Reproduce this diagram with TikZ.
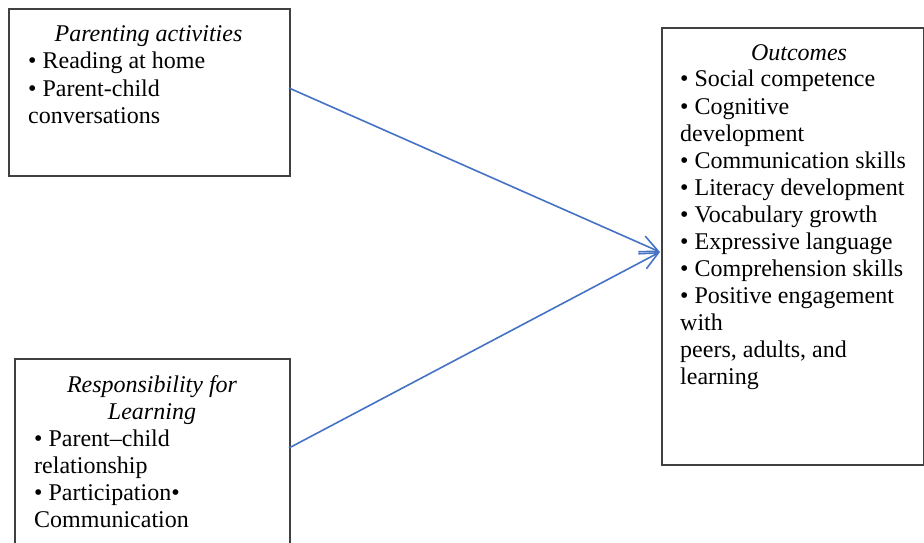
\documentclass[tikz,border=0pt]{standalone}
\usepackage{fontspec}
\setmainfont{Liberation Serif}
\usetikzlibrary{arrows.meta}
\definecolor{boxline}{HTML}{404040}
\definecolor{arrowblue}{HTML}{4472C4}
\begin{document}
\begin{tikzpicture}[x=1pt,y=-1pt,
  box/.style={draw=boxline,line width=1.6pt,rectangle,anchor=north west,inner sep=0pt},
  txt/.style={inner sep=0pt,anchor=base west,font=\fontsize{24}{27}\selectfont},
  ttl/.style={inner sep=0pt,anchor=base,font=\fontsize{24}{27}\selectfont\itshape},
  link/.style={draw=arrowblue,line width=1.6pt,-{Straight Barb[length=18pt,width=17pt,line width=1.6pt]}}]
\useasboundingbox (0,0) rectangle (924,543);
\clip (0,0) rectangle (924,543);
% boxes
\node[box,minimum width=281pt,minimum height=167pt] (pa) at (8,8) {};
\node[box,minimum width=275pt,minimum height=250pt] (rl) at (14,358) {};
\node[box,minimum width=262pt,minimum height=437pt] (oc) at (661,27) {};
% Parenting activities
\node[ttl] (pat) at (148.5,42) {Parenting activities};
\node[txt] (pa1) at (28,69) {• Reading at home};
\node[txt] (pa2) at (28,96) {• Parent-child};
\node[txt] (pa3) at (28,123) {conversations};
% Responsibility for Learning
\node[ttl] (rlt1) at (152,392) {Responsibility for};
\node[ttl] (rlt2) at (152,419) {Learning};
\node[txt] (rl1) at (34,446) {• Parent–child};
\node[txt] (rl2) at (34,473) {relationship};
\node[txt] (rl3) at (34,500) {• Participation•};
\node[txt] (rl4) at (34,527) {Communication};
% Outcomes
\node[ttl] (oct) at (799,60) {Outcomes};
\foreach \t [count=\i from 1] in {• Social competence,• Cognitive,development,• Communication skills,• Literacy development,• Vocabulary growth,• Expressive language,• Comprehension skills,• Positive engagement,with,{peers, adults, and},learning}{
  \node[txt] (oc\i) at (680,60+27*\i) {\t};
}
% connectors
\coordinate (s1) at (289,88);
\coordinate (s2) at (289,448);
\coordinate (t) at (660,252);
\draw[link] (s1) -- (t);
\draw[link] (s2) -- (t);
\end{tikzpicture}
\end{document}
